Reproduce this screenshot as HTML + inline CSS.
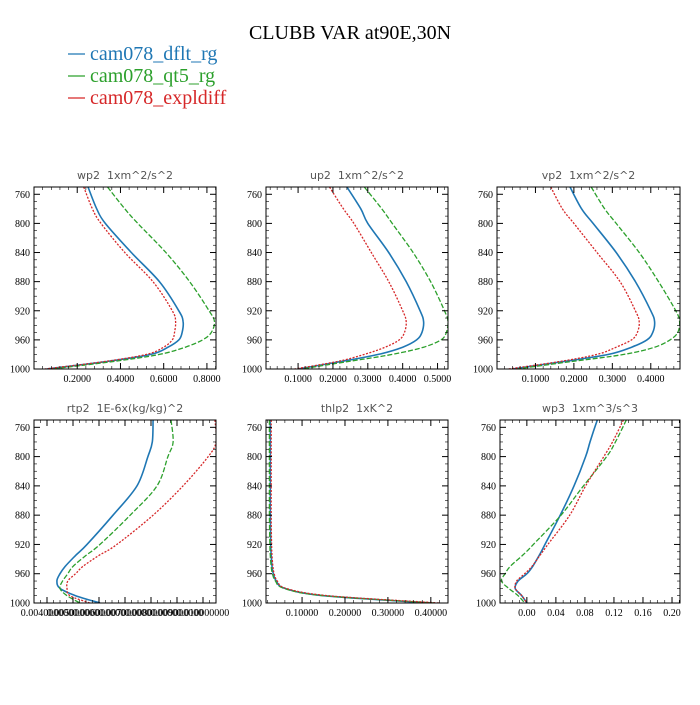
<!DOCTYPE html>
<html><head><meta charset="utf-8"><style>
body{margin:0;background:#fff;width:700px;height:700px;overflow:hidden}
svg text{font-family:"Liberation Serif",serif}
.pt{font-family:"DejaVu Sans","Liberation Sans",sans-serif;font-size:11px;fill:#555;white-space:pre}
</style></head><body>
<svg id="c" width="700" height="700" xmlns="http://www.w3.org/2000/svg">
<text x="350" y="39" text-anchor="middle" font-size="20">CLUBB VAR at90E,30N</text>
<g>
<line x1="68" y1="54" x2="85" y2="54" stroke="#1f77b4" stroke-width="1.3"/>
<text x="90" y="60" font-size="20" fill="#1f77b4">cam078_dflt_rg</text>
<line x1="68" y1="76" x2="85" y2="76" stroke="#2ca02c" stroke-width="1.3"/>
<text x="90" y="82" font-size="20" fill="#2ca02c">cam078_qt5_rg</text>
<line x1="68" y1="98" x2="85" y2="98" stroke="#d62728" stroke-width="1.3"/>
<text x="90" y="104" font-size="20" fill="#d62728">cam078_expldiff</text>
</g>
</svg>
<script>
const levels=[750,780,800,840,880,920,935,950,960,970,980,990,1000];
const wp2Dflt=[0.25,0.29,0.33,0.45,0.58,0.67,0.69,0.685,0.67,0.62,0.54,0.33,0.06];
const wp2Qt5=[0.34,0.42,0.48,0.61,0.72,0.81,0.835,0.82,0.78,0.70,0.58,0.36,0.08];
const wp2Expl=[0.23,0.27,0.31,0.42,0.55,0.64,0.655,0.65,0.64,0.60,0.52,0.32,0.05];
const up2Dflt=[0.24,0.28,0.30,0.36,0.41,0.45,0.46,0.455,0.44,0.40,0.33,0.22,0.10];
const up2Qt5=[0.29,0.34,0.37,0.43,0.48,0.52,0.53,0.525,0.51,0.46,0.37,0.24,0.11];
const up2Expl=[0.19,0.23,0.26,0.31,0.36,0.40,0.41,0.405,0.39,0.35,0.29,0.21,0.09];
const vp2Dflt=[0.19,0.22,0.25,0.31,0.36,0.40,0.41,0.405,0.39,0.35,0.29,0.17,0.04];
const vp2Qt5=[0.245,0.28,0.31,0.37,0.42,0.465,0.475,0.47,0.45,0.41,0.33,0.19,0.05];
const vp2Expl=[0.14,0.17,0.20,0.26,0.32,0.36,0.37,0.365,0.35,0.31,0.26,0.16,0.03];
const rtp2Dflt=[0.00808,0.00805,0.00788,0.00746,0.00654,0.00554,0.0051,0.0047,0.0045,0.00438,0.0045,0.0051,0.00604];
const rtp2Qt5=[0.00877,0.00885,0.00865,0.00823,0.0072,0.00604,0.0055,0.005,0.0048,0.0046,0.0045,0.00477,0.00527];
const rtp2Expl=[0.01046,0.0105,0.0102,0.00923,0.00808,0.00669,0.0060,0.00538,0.0051,0.0048,0.00477,0.00488,0.00565];
const thlp2Dflt=[0.026,0.026,0.026,0.026,0.026,0.027,0.028,0.03,0.033,0.04,0.06,0.15,0.40];
const thlp2Qt5=[0.024,0.024,0.024,0.024,0.024,0.025,0.026,0.028,0.031,0.038,0.058,0.15,0.41];
const thlp2Expl=[0.028,0.028,0.028,0.028,0.028,0.029,0.03,0.032,0.035,0.042,0.063,0.16,0.42];
const wp3Dflt=[0.097,0.087,0.081,0.065,0.046,0.025,0.017,0.008,0.0,-0.012,-0.016,-0.007,0.0];
const wp3Qt5=[0.137,0.122,0.11,0.078,0.047,0.009,-0.006,-0.023,-0.03,-0.035,-0.025,-0.012,-0.003];
const wp3Expl=[0.133,0.118,0.106,0.081,0.059,0.029,0.018,0.007,-0.003,-0.014,-0.016,-0.007,0.0];
const yTicks=[760,800,840,880,920,960,1000];
const wp2Ticks=[0.2,0.4,0.6,0.8], wp2Labels=["0.2000","0.4000","0.6000","0.8000"];
const up2Ticks=[0.1,0.2,0.3,0.4,0.5], up2Labels=["0.1000","0.2000","0.3000","0.4000","0.5000"];
const vp2Ticks=[0.1,0.2,0.3,0.4], vp2Labels=["0.1000","0.2000","0.3000","0.4000"];
const rtp2Ticks=[0.004,0.005,0.006,0.007,0.008,0.009,0.010], rtp2Labels=["0.004000000","0.005000000","0.006000000","0.007000000","0.008000000","0.009000000","0.010000000"];
const thlp2Ticks=[0.1,0.2,0.3,0.4], thlp2Labels=["0.10000","0.20000","0.30000","0.40000"];
const wp3Ticks=[0,0.04,0.08,0.12,0.16,0.2], wp3Labels=["0.00","0.04","0.08","0.12","0.16","0.20"];

const NS="http://www.w3.org/2000/svg";
const svg=document.getElementById('c');
function mk(t,a,p){const e=document.createElementNS(NS,t);for(const k in a)e.setAttribute(k,a[k]);(p||svg).appendChild(e);return e;}
const colors=["#1f77b4","#2ca02c","#d62728"];
const dashes=["none","5,2","2,1.5"];
function smooth(pts){
  let d='M'+pts[0][0].toFixed(1)+','+pts[0][1].toFixed(1);
  for(let i=0;i<pts.length-1;i++){
    const p0=pts[Math.max(i-1,0)],p1=pts[i],p2=pts[i+1],p3=pts[Math.min(i+2,pts.length-1)];
    const c1=[p1[0]+(p2[0]-p0[0])/6,p1[1]+(p2[1]-p0[1])/6];
    const c2=[p2[0]-(p3[0]-p1[0])/6,p2[1]-(p3[1]-p1[1])/6];
    d+='C'+c1.map(v=>v.toFixed(1)).join(',')+' '+c2.map(v=>v.toFixed(1)).join(',')+' '+p2.map(v=>v.toFixed(1)).join(',');
  }
  return d;
}
function panel(name,title,box,xd,xt,xl,series,minorStep){
  const [L,T,R,B]=box;
  const g=mk('g',{});
  
  
  const sx=v=>L+(v-xd[0])/(xd[1]-xd[0])*(R-L);
  const sy=p=>T+(p-750)/250*(B-T);
  const t=mk('text',{x:(L+R)/2,y:T-8,'text-anchor':'middle',class:'pt'},g);t.textContent=title;
  
  
  const cp='cp'+name;
  const cl=mk('clipPath',{id:cp},g);mk('rect',{x:L,y:T,width:R-L,height:B-T},cl);
  series.forEach((s,i)=>{
    const d=smooth(s.map((v,j)=>[sx(v),sy(levels[j])]));
    const p=mk('path',{d:d,fill:'none',stroke:colors[i],'stroke-width':i==0?1.6:1.3,'stroke-dasharray':dashes[i],'clip-path':'url(#'+cp+')'},g);
    
    
  });
  mk('rect',{x:L,y:T,width:R-L,height:B-T,fill:'none',stroke:'#000','stroke-width':1},g);
  for(let p=750;p<=1000;p+=10){const y=sy(p);const big=yTicks.includes(p);const len=big?6:3;
    mk('line',{x1:L,y1:y,x2:L+len,y2:y,stroke:'#000','stroke-width':big?1:0.6},g);
    mk('line',{x1:R,y1:y,x2:R-len,y2:y,stroke:'#000','stroke-width':big?1:0.6},g);}
  yTicks.forEach(p=>{const tx=mk('text',{x:L-4,y:sy(p)+3.5,'text-anchor':'end','font-size':10},g);tx.textContent=p;
    
    });
  const st=(xt[1]-xt[0])/minorStep;
  for(let v=xt[0]-st*Math.ceil((xt[0]-xd[0])/st);v<=xd[1];v+=st){if(v<xd[0])continue;const x=sx(v);
    const big=xt.some(q=>Math.abs(q-v)<st/10);const len=big?6:3;
    mk('line',{x1:x,y1:B,x2:x,y2:B-len,stroke:'#000','stroke-width':big?1:0.6},g);
    mk('line',{x1:x,y1:T,x2:x,y2:T+len,stroke:'#000','stroke-width':big?1:0.6},g);}
  xt.forEach((v,i)=>{const tx=mk('text',{x:sx(v),y:B+13,'text-anchor':'middle','font-size':10},g);tx.textContent=xl[i];
    
    });
}
panel('wp2','wp2  1xm^2/s^2',[34,187,216,369],[0,0.842],wp2Ticks,wp2Labels,[wp2Dflt,wp2Qt5,wp2Expl],5);
panel('up2','up2  1xm^2/s^2',[266,187,448,369],[0.008,0.53],up2Ticks,up2Labels,[up2Dflt,up2Qt5,up2Expl],5);
panel('vp2','vp2  1xm^2/s^2',[497,187,680,369],[0,0.476],vp2Ticks,vp2Labels,[vp2Dflt,vp2Qt5,vp2Expl],5);
panel('rtp2','rtp2  1E-6x(kg/kg)^2',[34,420,216,603],[0.0035,0.0105],rtp2Ticks,rtp2Labels,[rtp2Dflt,rtp2Qt5,rtp2Expl],4);
panel('thlp2','thlp2  1xK^2',[266,420,448,603],[0.016,0.44],thlp2Ticks,thlp2Labels,[thlp2Dflt,thlp2Qt5,thlp2Expl],5);
panel('wp3','wp3  1xm^3/s^3',[500,420,680,603],[-0.037,0.211],wp3Ticks,wp3Labels,[wp3Dflt,wp3Qt5,wp3Expl],4);
</script>
</body></html>
